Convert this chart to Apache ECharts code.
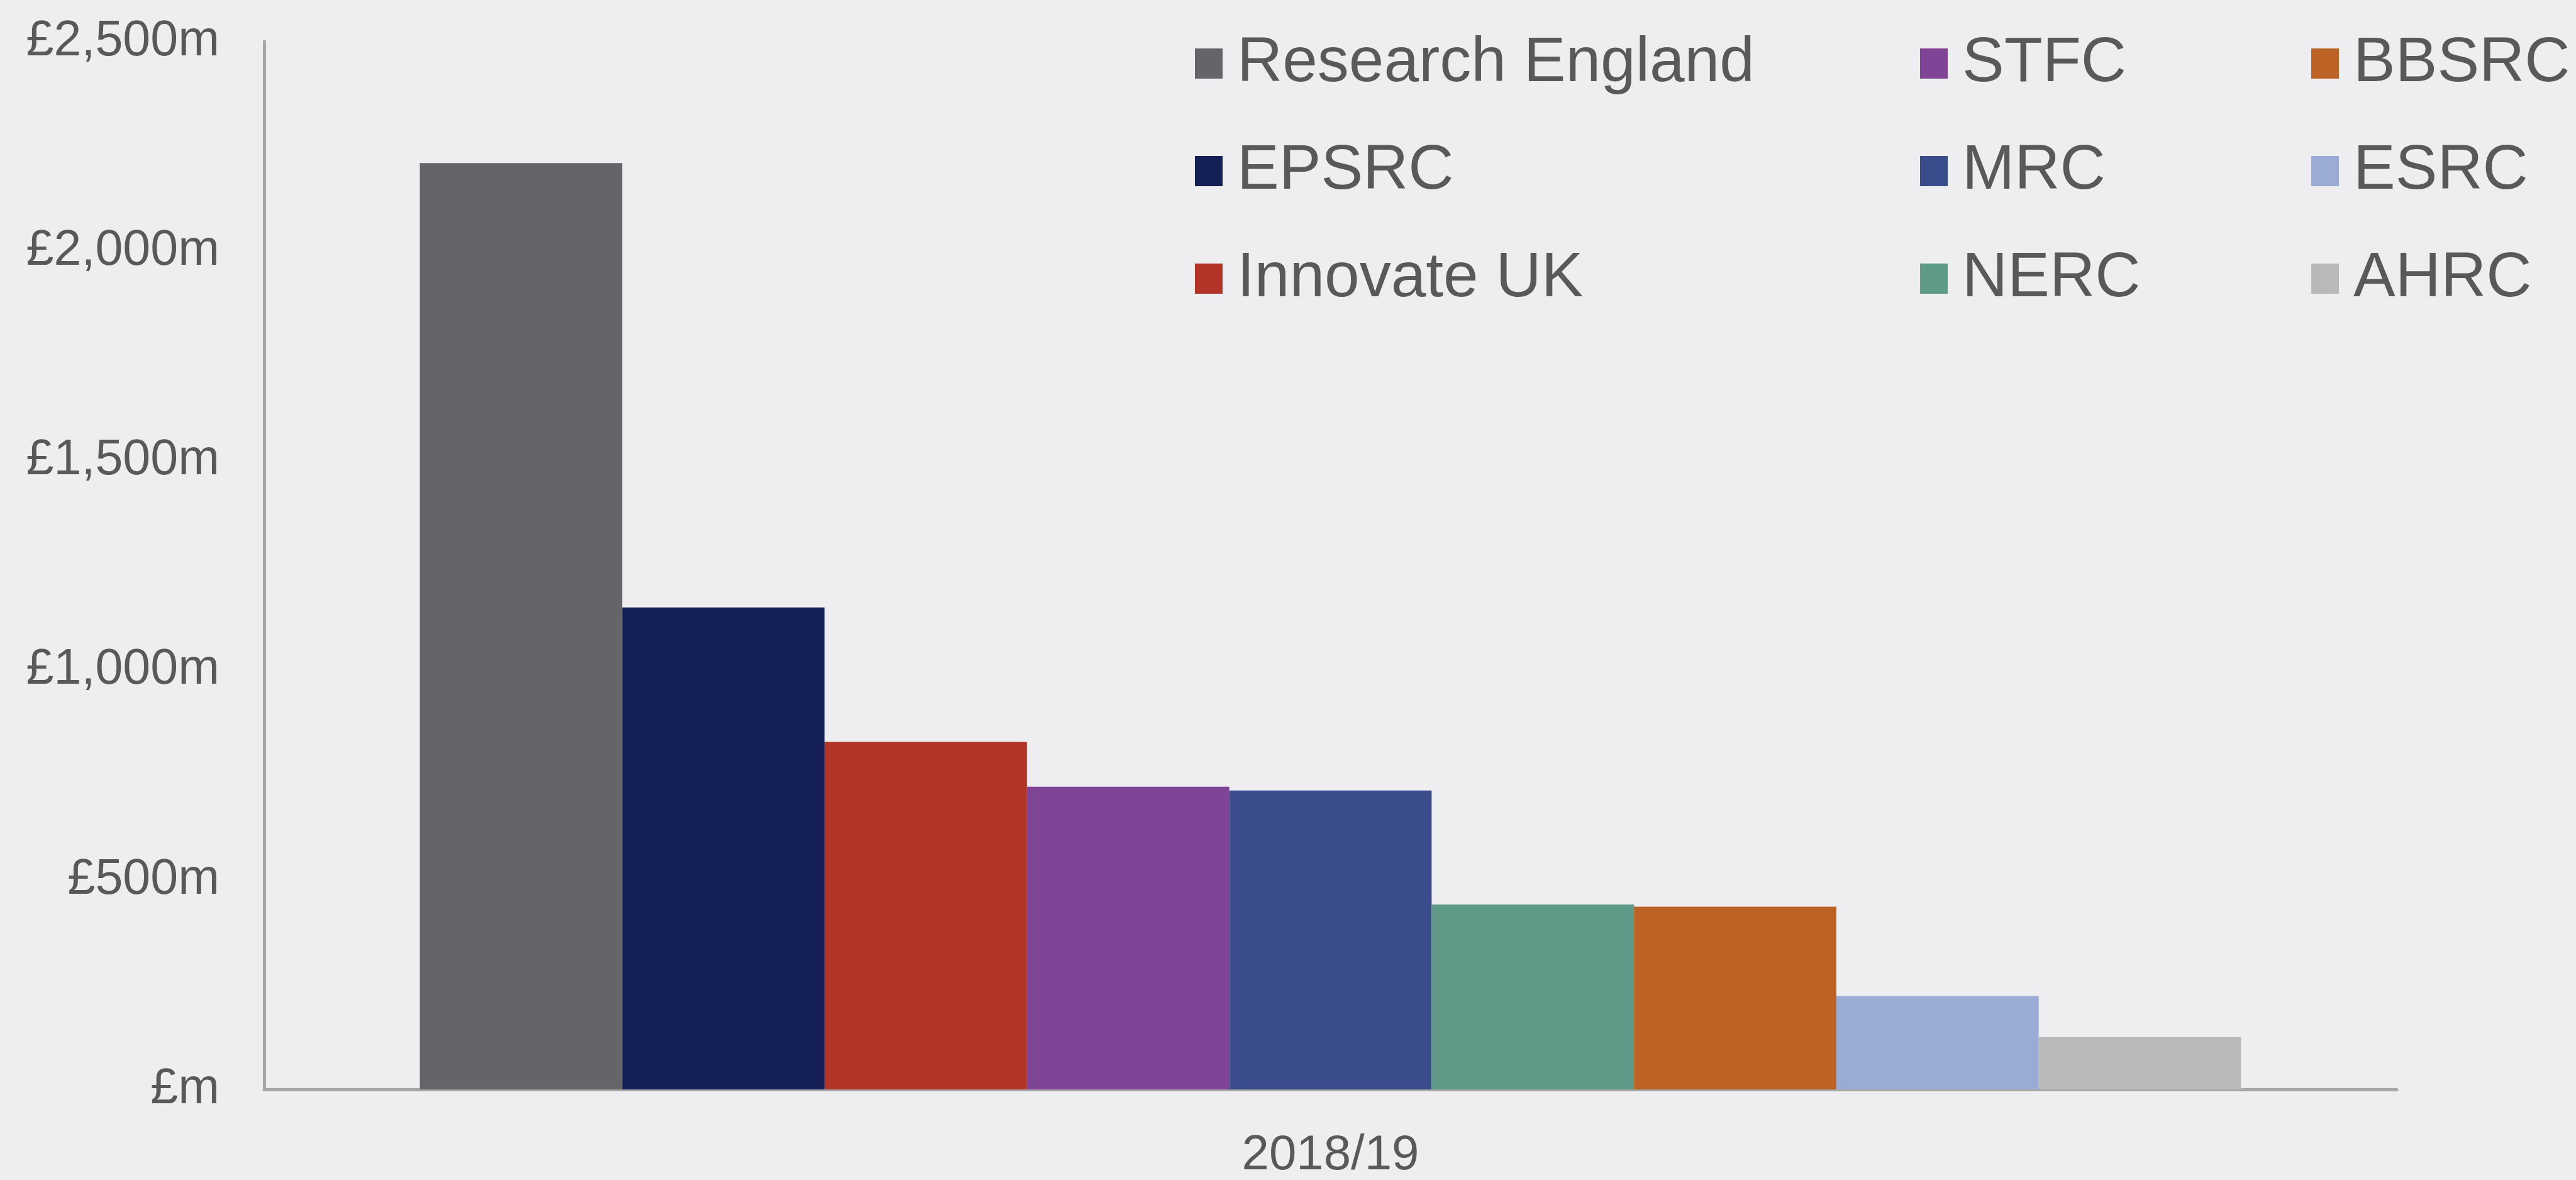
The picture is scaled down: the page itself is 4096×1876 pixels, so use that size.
<!DOCTYPE html>
<html>
<head>
<meta charset="utf-8">
<script src="https://cdn.jsdelivr.net/npm/echarts@6/dist/echarts.min.js"></script>
<style>
html,body{margin:0;padding:0;background:#eeeef0;}
#c{width:4096px;height:1876px;}
</style>
</head>
<body>
<div id="c"></div>
<script>
const categories = ['2018/19'];
const seriesNames = ['Research England','EPSRC','Innovate UK','STFC','MRC','NERC','BBSRC','ESRC','AHRC'];
const seriesValues = [2210, 1150, 829, 722, 713, 441, 436, 223, 125];
const seriesColors = ['#646469','#131f55','#b23428','#7f4495','#3b4c8d','#5f9987','#bd6225','#9aabd5','#b9b9b9'];
const yTickValues = [0, 500, 1000, 1500, 2000, 2500];
const yTickLabels = ['£m','£500m','£1,000m','£1,500m','£2,000m','£2,500m'];

const FONT = "'Liberation Sans', Arial, sans-serif";
const TEXT = '#595959';

const legendCols = [
  {left: 1895, names: seriesNames.slice(0,3)},
  {left: 3048, names: seriesNames.slice(3,6)},
  {left: 3670, names: seriesNames.slice(6,9)}
];

const option = {
  backgroundColor: '#eeeef0',
  animation: false,
  legend: legendCols.map(c => ({
    orient: 'vertical',
    left: c.left,
    top: 46,
    data: c.names,
    icon: 'rect',
    itemWidth: 44,
    itemHeight: 48,
    itemGap: 71,
    selectedMode: false,
    textStyle: {
      fontFamily: FONT,
      fontSize: 100,
      lineHeight: 100,
      color: TEXT,
      padding: [0, 0, 0, 18]
    }
  })),
  grid: {left: 420, right: 285, top: 66, bottom: 128, containLabel: false},
  xAxis: {
    type: 'category',
    data: categories,
    axisTick: {show: false},
    axisLine: {lineStyle: {color: '#a6a6a6', width: 5}},
    axisLabel: {fontFamily: FONT, fontSize: 78, color: TEXT, margin: 66}
  },
  yAxis: {
    type: 'value',
    min: 0,
    max: 2500,
    interval: 500,
    splitLine: {show: false},
    axisTick: {show: false},
    axisLine: {show: true, lineStyle: {color: '#a6a6a6', width: 5}},
    axisLabel: {
      fontFamily: FONT, fontSize: 79, color: TEXT, margin: 71,
      formatter: v => yTickLabels[yTickValues.indexOf(v)]
    }
  },
  series: seriesNames.map((n, i) => ({
    name: n,
    type: 'bar',
    data: [seriesValues[i]],
    barGap: '0%',
    barCategoryGap: '14.6%',
    itemStyle: {color: seriesColors[i]}
  }))
};

const chart = echarts.init(document.getElementById('c'), null, {renderer: 'canvas'});
chart.setOption(option);
</script>
</body>
</html>
